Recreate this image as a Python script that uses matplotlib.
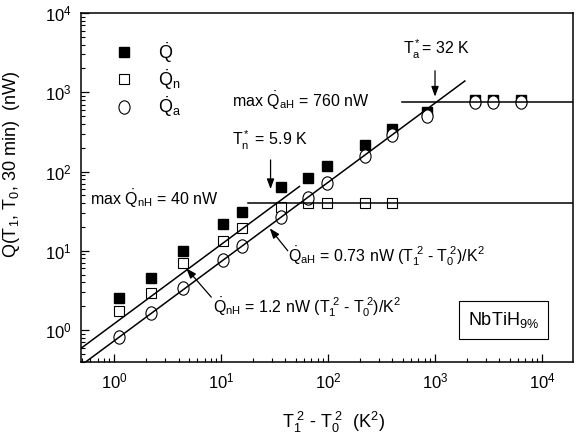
import matplotlib
matplotlib.use("Agg")
import matplotlib.pyplot as plt
import numpy as np
from matplotlib.path import Path
from matplotlib.lines import Line2D

plt.rcParams['font.family'] = ['Liberation Sans', 'DejaVu Sans']
plt.rcParams['mathtext.fontset'] = 'custom'
plt.rcParams['mathtext.rm'] = 'Liberation Sans'
plt.rcParams['mathtext.it'] = 'Liberation Sans'
plt.rcParams['mathtext.bf'] = 'Liberation Sans:bold'
plt.rcParams['mathtext.sf'] = 'Liberation Sans'

# ---- data ----
dT2 = [1.105, 2.19, 4.44, 10.4, 15.6, 36.1, 64.3, 98.4, 222, 395, 835, 2380, 3500, 6370]
Q_tot = [2.53, 4.5, 9.8, 21.5, 30.6, 63, 84, 116, 213, 347, 570, 800, 800, 800]
dT2_n = [1.105, 2.19, 4.44, 10.4, 15.6, 36.1, 64.3, 98.4, 222, 395]
Q_n = [1.73, 2.92, 6.95, 13.2, 19.2, 36, 39.5, 39.5, 39.5, 39.5]
Q_a = [0.82, 1.64, 3.37, 7.6, 11.4, 26.5, 45.8, 70.6, 158, 292, 505, 760, 760, 760]

coef_n = 1.2      # nW per K^2
coef_a = 0.73     # nW per K^2
maxQ_nH = 40      # nW
maxQ_aH = 760     # nW
fit_n_range = [0.45, 54]
fit_a_range = [0.45, 1900]
plat_n_range = [17.9, 2.0e4]
plat_a_range = [490, 2.0e4]

xlim = (0.49, 1.95e4)
ylim = (0.395, 1.0e4)

# ellipse marker for open circles
uc = Path.unit_circle()
ell = Path(uc.vertices * np.array([1.0, 1.2]), uc.codes)

fig = plt.figure(figsize=(5.76, 4.36), dpi=100)
ax = fig.add_axes([81/576, 1-362/436, 492/576, 349/436])
ax.set_xscale('log')
ax.set_yscale('log')
ax.set_xlim(*xlim)
ax.set_ylim(*ylim)

# fit lines and plateaus
xn = np.array(fit_n_range)
xa = np.array(fit_a_range)
ax.plot(xn, coef_n * xn, color='black', lw=1.1, zorder=3)
ax.plot(xa, coef_a * xa, color='black', lw=1.1, zorder=3)
ax.plot(plat_n_range, [maxQ_nH, maxQ_nH], color='black', lw=1.1, zorder=3)
ax.plot(plat_a_range, [maxQ_aH, maxQ_aH], color='black', lw=1.1, zorder=3)

# data markers
ax.plot(dT2, Q_tot, ls='none', marker='s', ms=7.2, mfc='black', mec='black', zorder=2)
ax.plot(dT2_n, Q_n, ls='none', marker='s', ms=7.2, mfc='white', mec='black', mew=0.8, zorder=2)
ax.plot(dT2, Q_a, ls='none', marker=ell, ms=9.6, mfc='white', mec='black', mew=0.8, zorder=2)

# legend
handles = [
    Line2D([], [], ls='none', marker='s', ms=7.2, mfc='black', mec='black'),
    Line2D([], [], ls='none', marker='s', ms=7.2, mfc='white', mec='black', mew=0.8),
    Line2D([], [], ls='none', marker=ell, ms=9.6, mfc='white', mec='black', mew=0.8),
]
labels = [r'$\dot{\rm Q}$', r'$\dot{\rm Q}_{\rm n}$', r'$\dot{\rm Q}_{\rm a}$']
ax.legend(handles, labels, loc='upper left', bbox_to_anchor=(0.05, 0.948), frameon=False,
          fontsize=13, handlelength=1.0, handletextpad=1.4, labelspacing=0.15, borderpad=0)

# annotations
fs = 11.5
tr = ax.transAxes
ax.text(0.307, 0.731, r'max $\dot{\rm Q}_{\rm aH}$ = 760 nW', transform=tr, fontsize=fs, va='baseline')
ax.text(0.307, 0.619, r'T$^*_{\rm n}$ = 5.9 K', transform=tr, fontsize=fs, va='baseline')
ax.text(0.018, 0.450, r'max $\dot{\rm Q}_{\rm nH}$ = 40 nW', transform=tr, fontsize=fs, va='baseline')
ax.text(0.654, 0.880, r'T$^*_{\rm a}$= 32 K', transform=tr, fontsize=fs, va='baseline')
ax.text(0.421, 0.287, r'$\dot{\rm Q}_{\rm aH}$ = 0.73 nW (T$_1^{\ 2}$ - T$_0^{\ 2}$)/K$^2$',
        transform=tr, fontsize=fs, va='baseline')
ax.text(0.268, 0.143, r'$\dot{\rm Q}_{\rm nH}$ = 1.2 nW (T$_1^{\ 2}$ - T$_0^{\ 2}$)/K$^2$',
        transform=tr, fontsize=fs, va='baseline')

ap = dict(arrowstyle='-|>,head_length=0.6,head_width=0.22', color='black', lw=0.9, shrinkA=0, shrinkB=0)
ax.annotate('', xy=(29, 60), xytext=(29, 140), arrowprops=ap)
ax.annotate('', xy=(1000, 880), xytext=(1000, 1870), arrowprops=ap)
ax.annotate('', xy=(28.5, 19.2), xytext=(42, 10), arrowprops=ap)
ax.annotate('', xy=(4.73, 6.0), xytext=(8.1, 2.6), arrowprops=ap)

ax.text(0.858, 0.12, r'NbTiH$_{9\%}$', transform=tr, fontsize=13, ha='center', va='center',
        bbox=dict(boxstyle='square,pad=0.5', fc='white', ec='black', lw=0.8))

# axes styling
for s in ax.spines.values():
    s.set_linewidth(1.1)
ax.tick_params(which='both', direction='in', top=False, right=False, labelsize=12)
ax.tick_params(which='major', length=6, width=0.9, pad=7)
ax.tick_params(which='minor', length=3, width=0.8)
ax.set_xlabel(r'T$_1^{\ 2}$ - T$_0^{\ 2}$  (K$^2$)', fontsize=13)
ax.set_ylabel(r'Q(T$_1$, T$_0$, 30 min)  (nW)', fontsize=13)
ax.xaxis.set_label_coords(0.514, -0.138)
ax.yaxis.set_label_coords(-0.12, 0.565)

fig.savefig('out.png', dpi=100)
